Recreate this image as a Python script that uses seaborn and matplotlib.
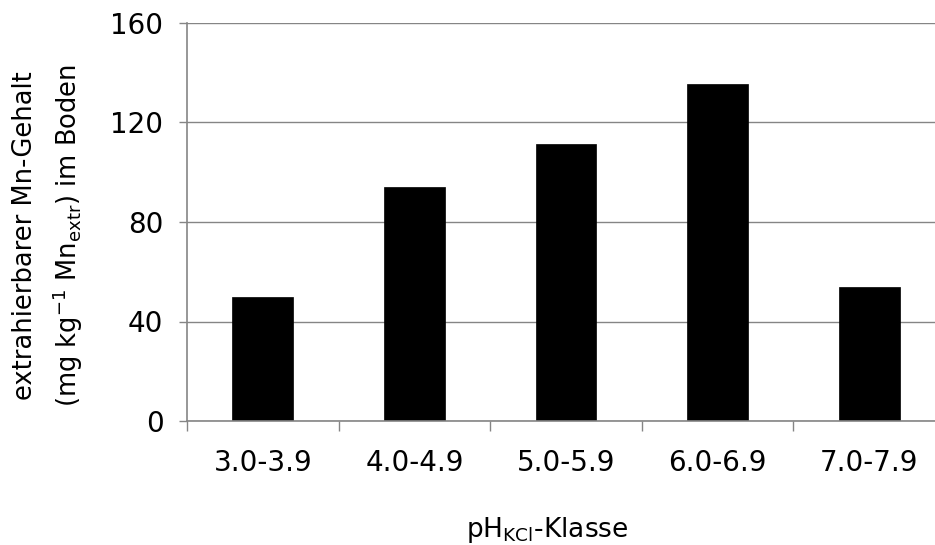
import numpy as np
import pandas as pd
import matplotlib
matplotlib.use("Agg")
import matplotlib.pyplot as plt
import seaborn as sns

# --- Data ---
ph_classes = ["3.0-3.9", "4.0-4.9", "5.0-5.9", "6.0-6.9", "7.0-7.9"]
mn_extr = [50, 94, 111.5, 135.5, 54]
y_ticks = [0, 40, 80, 120, 160]

GRAY = "#858585"

sns.set_theme(style="white")
plt.rcParams["font.family"] = ["DejaVu Sans"]
plt.rcParams["mathtext.fontset"] = "dejavusans"

fig = plt.figure(figsize=(9.35, 5.45), dpi=100)
# axes runs slightly past the right edge, like the original export
ax = fig.add_axes([187 / 935, 124 / 545, 758 / 935, 398 / 545])

df = pd.DataFrame({"klasse": ph_classes, "mn": mn_extr})
sns.barplot(data=df, x="klasse", y="mn", color="black", saturation=1,
            width=0.4, ax=ax, zorder=3, edgecolor="black", linewidth=0.5)

# y axis
ax.set_ylim(0, 160)
ax.set_yticks(y_ticks)
ax.set_yticklabels([str(v) for v in y_ticks], fontsize=20)
ax.yaxis.grid(True, color=GRAY, lw=1)
ax.set_axisbelow(True)
ax.tick_params(axis="y", which="major", left=True, length=6, width=1,
               color=GRAY, pad=11, labelcolor="black")

# x axis: tick marks between categories, labels centred on bars
n = len(ph_classes)
ax.set_xlim(-0.5, n - 0.5)
ax.set_xticks(np.arange(n + 1) - 0.5)
ax.set_xticklabels([""] * (n + 1))
ax.set_xticks(np.arange(n), minor=True)
ax.set_xticklabels(ph_classes, minor=True, fontsize=20)
ax.tick_params(axis="x", which="major", bottom=True, length=7, width=1,
               color=GRAY)
ax.tick_params(axis="x", which="minor", bottom=True, length=0, pad=20.5,
               labelcolor="black")

for side in ["top", "right"]:
    ax.spines[side].set_visible(False)
for side in ["left", "bottom"]:
    ax.spines[side].set_color(GRAY)
    ax.spines[side].set_linewidth(1.2)
    ax.spines[side].set_zorder(4)

ax.set_ylabel("extrahierbarer Mn-Gehalt\n(mg kg$^{-1}$ Mn$_{\\mathregular{extr}}$) im Boden",
              fontsize=18.5, linespacing=1.45, color="black")
ax.yaxis.set_label_coords(-0.135, 0.465)
ax.set_xlabel(r"pH$_{\mathregular{KCl}}$-Klasse", fontsize=19, color="black")
ax.xaxis.set_label_coords(0.475, -0.236)

fig.savefig("out.png", dpi=100)
